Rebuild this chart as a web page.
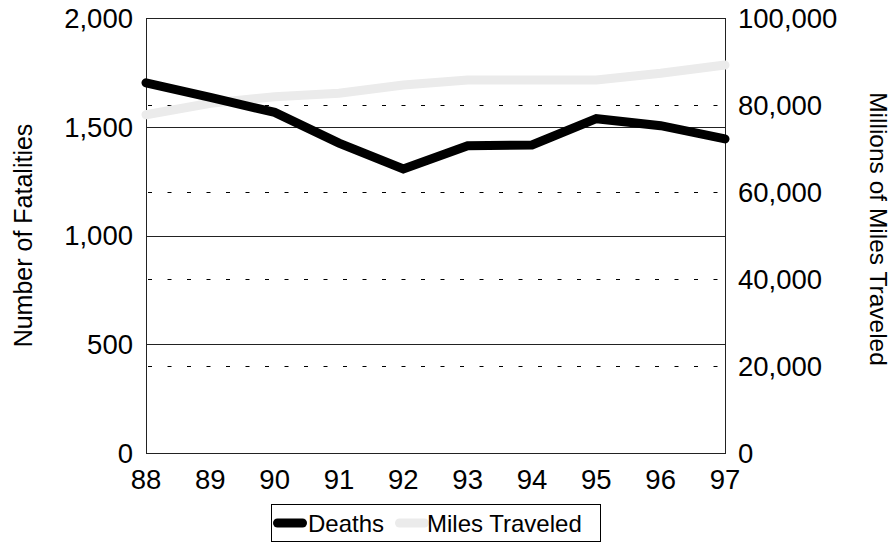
<!DOCTYPE html>
<html lang="en">
  <head>
    <title>Deaths and Miles Traveled</title>
    <script src="https://d3js.org/d3.v7.min.js"></script>
    <style>
      body { margin: 0; background: #fff; }
      svg { display: block; font-family: "Liberation Sans", Arial, sans-serif; }
    </style>
  </head>
  <body>
    <div id="chart"></div>
    <script>
      // values
      const years = ["88", "89", "90", "91", "92", "93", "94", "95", "96", "97"];
      const deaths = [1702, 1635, 1566, 1425, 1306, 1413, 1416, 1537, 1505, 1444];
      const miles = [77770, 80390, 81910, 82690, 84600, 85750, 85750, 85750, 87290, 89200];
      const seriesNames = ["Deaths", "Miles Traveled"];
      const leftTicks = [0, 500, 1000, 1500, 2000];
      const rightTicks = [0, 20000, 40000, 60000, 80000, 100000];

      const width = 896;
      const height = 542;
      const margin = { top: 18, right: 171, bottom: 89, left: 146 };

      const svg = d3
        .select("#chart")
        .append("svg")
        .attr("width", width)
        .attr("height", height);

      const x = d3
        .scalePoint()
        .domain(years)
        .range([margin.left, width - margin.right]);

      const yLeft = d3
        .scaleLinear()
        .domain([0, 2000])
        .range([height - margin.bottom, margin.top]);

      const yRight = d3
        .scaleLinear()
        .domain([0, 100000])
        .range([height - margin.bottom, margin.top]);

      const x0 = margin.left;
      const x1 = width - margin.right;

      // solid gridlines (left axis)
      svg
        .selectAll(".grid-solid")
        .data(leftTicks.filter((d) => d > 0 && d < 2000))
        .enter()
        .append("line")
        .attr("x1", x0)
        .attr("x2", x1)
        .attr("y1", (d) => Math.round(yLeft(d)) + 0.5)
        .attr("y2", (d) => Math.round(yLeft(d)) + 0.5)
        .attr("stroke", "#222")
        .attr("stroke-width", 1);

      // dotted gridlines (right axis)
      svg
        .selectAll(".grid-dot")
        .data(rightTicks.filter((d) => d > 0 && d < 100000))
        .enter()
        .append("line")
        .attr("x1", x0 + 2)
        .attr("x2", x1)
        .attr("y1", (d) => Math.round(yRight(d)) + 0.5)
        .attr("y2", (d) => Math.round(yRight(d)) + 0.5)
        .attr("stroke", "#000")
        .attr("stroke-width", 1)
        .attr("stroke-dasharray", "4,15.5");

      // plot frame
      svg
        .append("rect")
        .attr("x", x0 + 0.5)
        .attr("y", margin.top + 0.5)
        .attr("width", x1 - x0)
        .attr("height", height - margin.bottom - margin.top)
        .attr("fill", "none")
        .attr("stroke", "#222")
        .attr("stroke-width", 1);

      const milesLine = d3
        .line()
        .x((d, i) => x(years[i]))
        .y((d) => yRight(d));

      const deathLine = d3
        .line()
        .x((d, i) => x(years[i]))
        .y((d) => yLeft(d));

      svg
        .append("path")
        .datum(miles)
        .attr("d", milesLine)
        .attr("fill", "none")
        .attr("stroke", "#ebebeb")
        .attr("stroke-width", 9)
        .attr("stroke-linecap", "round");

      svg
        .append("path")
        .datum(deaths)
        .attr("d", deathLine)
        .attr("fill", "none")
        .attr("stroke", "#000")
        .attr("stroke-width", 9)
        .attr("stroke-linecap", "round");

      const fmt = d3.format(",");

      // left axis labels
      svg
        .append("g")
        .attr("transform", `translate(${x0 - 13},0)`)
        .selectAll("text")
        .data(leftTicks)
        .enter()
        .append("text")
        .attr("y", (d) => yLeft(d))
        .attr("dy", "0.36em")
        .attr("text-anchor", "end")
        .style("font-size", "27.5px")
        .text((d) => fmt(d));

      // right axis labels
      svg
        .append("g")
        .attr("transform", `translate(${x1 + 13},0)`)
        .selectAll("text")
        .data(rightTicks)
        .enter()
        .append("text")
        .attr("y", (d) => yRight(d))
        .attr("dy", "0.36em")
        .attr("text-anchor", "start")
        .style("font-size", "27.5px")
        .text((d) => fmt(d));

      // x axis labels
      svg
        .append("g")
        .selectAll("text")
        .data(years)
        .enter()
        .append("text")
        .attr("x", (d) => x(d))
        .attr("y", 489)
        .attr("text-anchor", "middle")
        .style("font-size", "27.5px")
        .text((d) => d);

      // axis titles
      svg
        .append("text")
        .attr("transform", `translate(32,${(yLeft(0) + yLeft(2000)) / 2}) rotate(-90)`)
        .attr("text-anchor", "middle")
        .style("font-size", "25px")
        .text("Number of Fatalities");

      svg
        .append("text")
        .attr("transform", `translate(870,229) rotate(90)`)
        .attr("text-anchor", "middle")
        .style("font-size", "24.5px")
        .text("Millions of Miles Traveled");

      // legend
      const legend = svg.append("g");
      legend
        .append("rect")
        .attr("x", 271.5)
        .attr("y", 504.5)
        .attr("width", 329)
        .attr("height", 37)
        .attr("fill", "#fff")
        .attr("stroke", "#000")
        .attr("stroke-width", 1);

      const legendItems = [
        { name: seriesNames[0], color: "#000", lx: 277.5, tx: 308 },
        { name: seriesNames[1], color: "#ebebeb", lx: 399.5, tx: 427 },
      ];

      legend
        .selectAll(".lg-line")
        .data(legendItems)
        .enter()
        .append("line")
        .attr("x1", (d) => d.lx)
        .attr("x2", (d) => d.lx + 25)
        .attr("y1", 523)
        .attr("y2", 523)
        .attr("stroke", (d) => d.color)
        .attr("stroke-width", 9)
        .attr("stroke-linecap", "round");

      legend
        .selectAll(".lg-text")
        .data(legendItems)
        .enter()
        .append("text")
        .attr("x", (d) => d.tx)
        .attr("y", 532)
        .style("font-size", "24px")
        .text((d) => d.name);
    </script>
  </body>
</html>
